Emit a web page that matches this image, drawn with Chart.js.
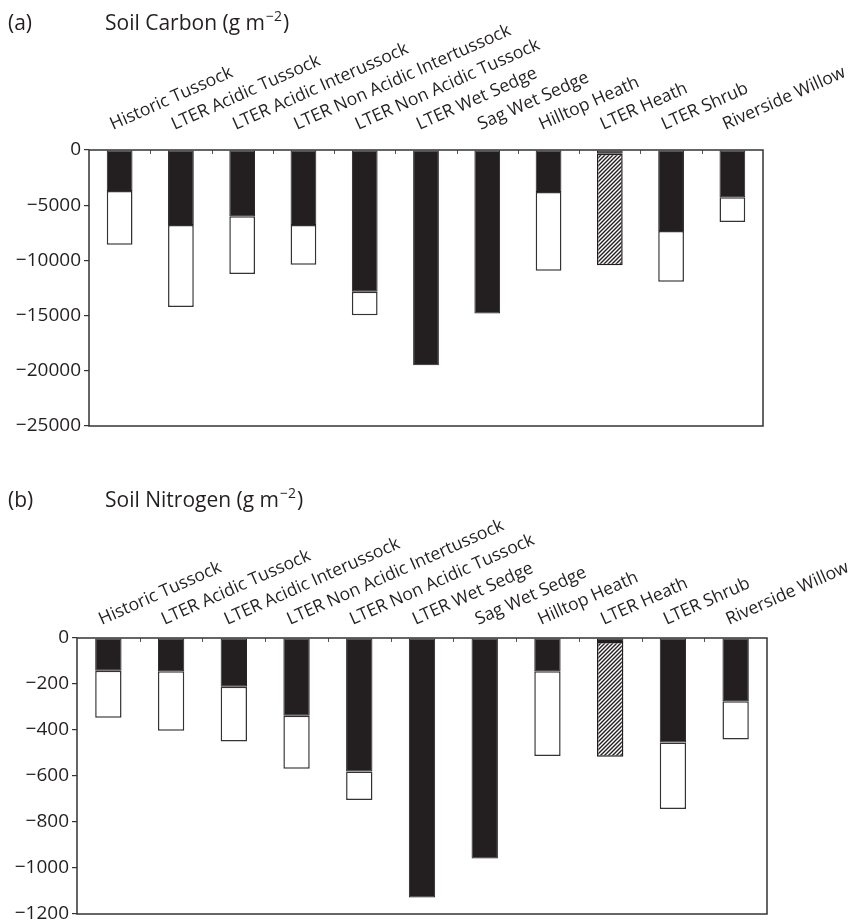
<!DOCTYPE html>
<html><head><meta charset="utf-8">
<script src="https://cdn.jsdelivr.net/npm/chart.js@4.4.1/dist/chart.umd.min.js"></script>
<style>
html,body{margin:0;padding:0;background:#fff;}
#wrap{position:relative;width:855px;height:922px;overflow:hidden;}
#c1{position:absolute;left:0;top:0;}
#c2{position:absolute;left:0;top:440px;}
</style></head><body>
<div id="wrap">
<canvas id="c1" width="855" height="440" style="width:855px;height:440px"></canvas>
<canvas id="c2" width="855" height="482" style="width:855px;height:482px"></canvas>
</div>
<script>
// ---- data ----
const categories = ["Historic Tussock","LTER Acidic Tussock","LTER Acidic Interussock","LTER Non Acidic Intertussock","LTER Non Acidic Tussock","LTER Wet Sedge","Sag Wet Sedge","Hilltop Heath","LTER Heath","LTER Shrub","Riverside Willow"];

// Soil carbon (g m-2): organic layer (black), heath total (hatched), mineral layer (white)
const carbonOrganic = [-3720,-6800,-6010,-6800,-12840,-19490,-14810,-3810,-330,-7340,-4290];
const carbonHatched = [null,null,null,null,null,null,null,null,-10100,null,null];
const carbonMineral = [-4870,-7430,-5230,-3600,-2120,null,null,-7130,null,-4600,-2240];
const carbonTicks = [0,-5000,-10000,-15000,-20000,-25000];

// Soil nitrogen (g m-2)
const nitrogenOrganic = [-142,-145,-212,-338,-580,-1128,-959,-145,-17,-454,-275];
const nitrogenHatched = [null,null,null,null,null,null,null,null,-499,null,null];
const nitrogenMineral = [-205,-258,-238,-230,-124,null,null,-368,null,-289,-166];
const nitrogenTicks = [0,-200,-400,-600,-800,-1000,-1200];

// ---- styling ----
const INK = '#231f20';
const FONT = '"Open Sans", "Noto Sans", sans-serif';

function hatchPattern(){
  const c = document.createElement('canvas');
  c.width = 4; c.height = 4;
  const g = c.getContext('2d');
  g.fillStyle = '#fff'; g.fillRect(0,0,4,4);
  g.strokeStyle = INK; g.lineWidth = 1.4;
  g.beginPath();
  g.moveTo(-1,5); g.lineTo(5,-1);
  g.moveTo(-1,1); g.lineTo(1,-1);
  g.moveTo(3,5); g.lineTo(5,3);
  g.stroke();
  return g.createPattern(c,'repeat');
}

function fmt(v){ return v === 0 ? '0' : (v < 0 ? '\u2212' + Math.abs(v) : String(v)); }

function makeChart(id, organic, hatched, mineral, ticks, o){
  const ctx = document.getElementById(id).getContext('2d');
  const pattern = hatchPattern();
  const frame = {
    id: 'frame',
    afterDraw(chart){
      const a = chart.chartArea, c = chart.ctx;
      c.save();
      // inward top ticks at category boundaries
      c.strokeStyle = '#555'; c.lineWidth = 1;
      const n = categories.length, w = (a.right - a.left) / n;
      for (let i = 1; i < n; i++){
        const x = Math.round(a.left + i * w) + 0.5;
        c.beginPath(); c.moveTo(x, a.top); c.lineTo(x, a.top + 4); c.stroke();
      }
      c.strokeStyle = '#333'; c.lineWidth = 1.5;
      c.strokeRect(a.left, a.top, a.right - a.left, a.bottom - a.top);
      // titles
      c.fillStyle = INK; c.textBaseline = 'alphabetic'; c.textAlign = 'left';
      c.font = '21px ' + FONT;
      c.fillText(o.letter, 8, o.titleY);
      const t1 = o.title;
      c.fillText(t1, 105, o.titleY);
      let x = 105 + c.measureText(t1).width + 1;
      c.font = '14px ' + FONT;
      c.fillText('\u22122', x, o.titleY - 9);
      x += c.measureText('\u22122').width + 1;
      c.font = '21px ' + FONT;
      c.fillText(')', x, o.titleY);
      c.restore();
    }
  };
  return new Chart(ctx, {
    type: 'bar',
    data: {
      labels: categories,
      datasets: [
        {label:'organic', data: organic, backgroundColor: INK, borderColor: INK, borderWidth: 1, borderSkipped: false},
        {label:'hatched', data: hatched, backgroundColor: pattern, borderColor: INK, borderWidth: 1.5, borderSkipped: false},
        {label:'mineral', data: mineral, backgroundColor: '#fff', borderColor: '#333', borderWidth: 1.5, borderSkipped: false}
      ]
    },
    options: {
      responsive: false,
      animation: false,
      events: [],
      layout: {padding: {left: 0, top: 0, right: o.padRight, bottom: o.padBottom}},
      plugins: {legend: {display: false}, tooltip: {enabled: false}, title: {display: false}},
      datasets: {bar: {categoryPercentage: 1, barPercentage: 0.42}},
      scales: {
        x: {
          position: 'top', stacked: true,
          grid: {display: false, drawTicks: false},
          border: {display: false},
          ticks: {
            autoSkip: false, minRotation: 24, maxRotation: 24, padding: o.labelPad,
            color: INK, font: {family: FONT, size: 17.5}
          },
          afterFit(s){ s.height = o.top; s.paddingLeft = 0; s.paddingRight = 0; }
        },
        y: {
          stacked: true, min: ticks[ticks.length-1], max: ticks[0],
          afterBuildTicks(s){ s.ticks = ticks.map(v => ({value: v})); },
          grid: {drawOnChartArea: false, drawTicks: true, tickLength: 5, color: '#333', lineWidth: 1.2},
          border: {display: false},
          ticks: {padding: 3, color: INK, font: {family: FONT, size: 19}, callback: v => fmt(v)},
          afterFit(s){ s.width = o.left; s.paddingTop = 0; s.paddingBottom = 0; }
        }
      }
    },
    plugins: [frame]
  });
}

makeChart('c1', carbonOrganic, carbonHatched, carbonMineral, carbonTicks,
  {letter: '(a)', title: 'Soil Carbon (g m', titleY: 30, left: 89, top: 150, padRight: 92, padBottom: 14, labelPad: 15});
makeChart('c2', nitrogenOrganic, nitrogenHatched, nitrogenMineral, nitrogenTicks,
  {letter: '(b)', title: 'Soil Nitrogen (g m', titleY: 67, left: 77, top: 198, padRight: 88, padBottom: 8, labelPad: 8});
</script>
</body></html>
